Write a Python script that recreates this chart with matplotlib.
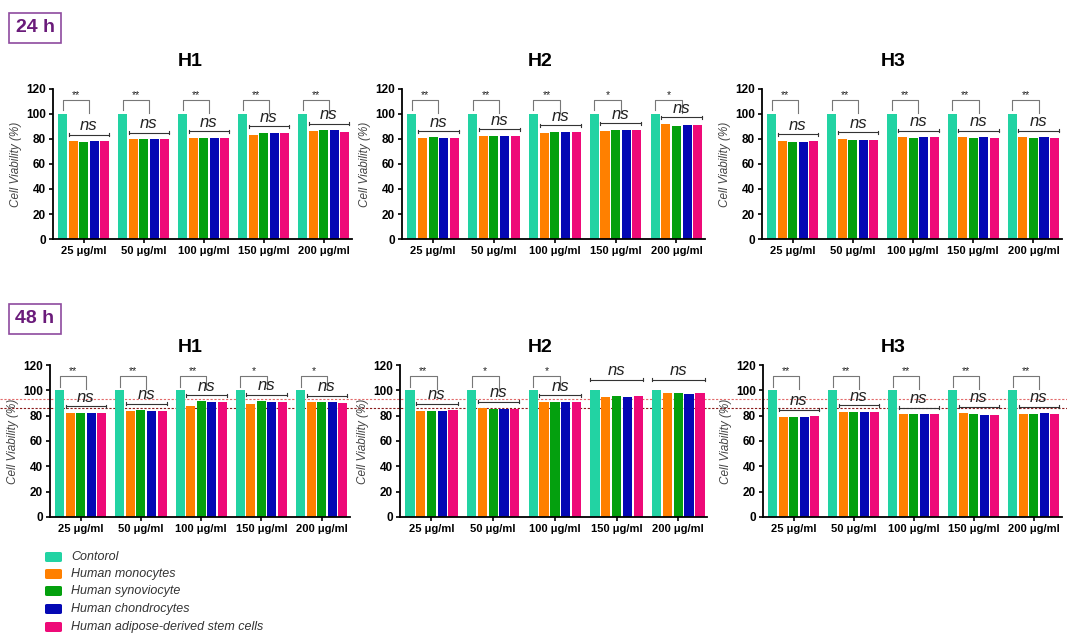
import numpy as np
import matplotlib
matplotlib.use("Agg")
import matplotlib.pyplot as plt
from matplotlib.patches import FancyBboxPatch
from matplotlib.lines import Line2D

plt.rcParams['font.family'] = ['Liberation Sans', 'DejaVu Sans']

# data
doses = ['25 \u03bcg/ml', '50 \u03bcg/ml', '100 \u03bcg/ml', '150 \u03bcg/ml', '200 \u03bcg/ml']
groups = ['Contorol', 'Human monocytes', 'Human synoviocyte',
          'Human chondrocytes', 'Human adipose-derived stem cells']
colors = ['#22D3A3', '#FF8000', '#04A00E', '#0408B4', '#EE0A78']

control = [100, 100, 100, 100, 100]

# 24 h, rows = doses, cols = monocytes, synoviocyte, chondrocytes, adipose
h1_24 = [[78.0, 77.6, 78.2, 78.2],
         [79.8, 79.6, 79.8, 79.8],
         [81.0, 80.6, 80.6, 81.0],
         [83.3, 85.0, 84.4, 84.4],
         [86.6, 87.3, 86.9, 85.6]]
h2_24 = [[80.4, 81.2, 80.4, 81.0],
         [82.6, 82.6, 82.3, 82.3],
         [84.7, 85.8, 85.2, 85.2],
         [86.6, 87.4, 87.4, 87.4],
         [92.2, 90.0, 91.1, 91.1]]
h3_24 = [[78.0, 77.7, 77.7, 78.7],
         [80.3, 79.5, 79.5, 79.5],
         [81.4, 80.9, 81.4, 81.7],
         [81.4, 80.9, 81.4, 80.9],
         [81.4, 80.6, 81.4, 80.9]]

# 48 h
h1_48 = [[81.8, 82.3, 82.3, 82.3],
         [84.0, 84.5, 83.5, 83.5],
         [87.4, 91.2, 90.4, 90.6],
         [89.3, 91.5, 90.4, 90.6],
         [90.6, 90.4, 90.4, 90.1]]
h2_48 = [[84.0, 84.0, 83.3, 84.6],
         [86.1, 85.6, 85.4, 85.6],
         [90.6, 90.9, 90.6, 91.1],
         [95.0, 95.8, 94.5, 95.3],
         [97.6, 98.2, 97.1, 97.6]]
h3_48 = [[79.0, 79.0, 79.0, 79.8],
         [83.2, 82.7, 83.2, 83.2],
         [81.2, 81.4, 81.2, 81.2],
         [82.2, 81.7, 80.6, 80.6],
         [81.7, 81.4, 82.2, 81.7]]

# significance of control vs treated ('' = only ns over the whole group)
sig_h1_24 = ['**', '**', '**', '**', '**']
sig_h2_24 = ['**', '**', '**', '*', '*']
sig_h3_24 = ['**', '**', '**', '**', '**']
sig_h1_48 = ['**', '**', '**', '*', '*']
sig_h2_48 = ['**', '*', '*', '', '']
sig_h3_48 = ['**', '**', '**', '**', '**']

ref_lines_48 = [93, 86.2]

W = 0.15
STEP = 0.175


def draw_panel(ax, treated, sig):
    x = np.arange(len(doses))
    treated = np.array(treated)
    all_vals = np.column_stack([control, treated])
    ax.patch.set_alpha(0)
    for k in range(5):
        off = (k - 2) * STEP
        ax.bar(x + off, all_vals[:, k], width=W, color=colors[k], linewidth=0)

    for i in range(len(doses)):
        top = treated[i].max()
        if sig[i]:
            # ns bar over the treated groups
            xl, xr = i - STEP - W / 2, i + 2 * STEP + W / 2
            y = top + 5
            ax.plot([xl, xr], [y, y], color='#333333', lw=0.8)
            ax.plot([xl, xl], [y - 1.2, y + 1.2], color='#333333', lw=0.8)
            ax.plot([xr, xr], [y - 1.2, y + 1.2], color='#333333', lw=0.8)
            ax.text((xl + xr) / 2, y + 1.2, 'ns', ha='center', va='bottom',
                    fontsize=12, style='italic', color='#222222')
            # control bracket
            xa, xb = i - 2 * STEP, i + 0.5 * STEP
            ax.plot([xa, xa, xb, xb], [103, 111, 111, 101], color='#777777', lw=0.8)
            ax.text((xa + xb) / 2, 111.5, sig[i], ha='center', va='bottom',
                    fontsize=7.5, color='#222222')
        else:
            xl, xr = i - 2 * STEP - W / 2, i + 2 * STEP + W / 2
            y = 108.5
            ax.plot([xl, xr], [y, y], color='#333333', lw=0.8)
            ax.plot([xl, xl], [y - 1.2, y + 1.2], color='#333333', lw=0.8)
            ax.plot([xr, xr], [y - 1.2, y + 1.2], color='#333333', lw=0.8)
            ax.text(i, y + 1.2, 'ns', ha='center', va='bottom',
                    fontsize=12, style='italic', color='#222222')

    ax.set_xlim(-0.51, 4.47)
    ax.set_ylim(0, 120)
    ax.set_yticks(range(0, 121, 20))
    ax.set_xticks(x)
    ax.set_xticklabels(doses, fontsize=8, fontweight='bold')
    for lab in ax.get_yticklabels():
        lab.set_fontsize(8.5)
        lab.set_fontweight('bold')
    ax.tick_params(axis='both', length=3, width=1.2, pad=2)
    ax.spines['top'].set_visible(False)
    ax.spines['right'].set_visible(False)
    ax.spines['left'].set_linewidth(1.3)
    ax.spines['bottom'].set_linewidth(1.3)
    ax.set_ylabel('Cell Viability (%)', fontsize=8.5, style='italic', color='#444444', labelpad=3)


fig = plt.figure(figsize=(10.67, 6.37), dpi=100)

top_pos = [[0.0497, 0.6248, 0.280, 0.2355],
           [0.3768, 0.6248, 0.284, 0.2355],
           [0.7141, 0.6248, 0.281, 0.2355]]
bot_pos = [[0.0469, 0.1884, 0.281, 0.2386],
           [0.3749, 0.1884, 0.288, 0.2386],
           [0.7151, 0.1884, 0.280, 0.2386]]

panels_24 = [(h1_24, sig_h1_24, 'H1'), (h2_24, sig_h2_24, 'H2'), (h3_24, sig_h3_24, 'H3')]
panels_48 = [(h1_48, sig_h1_48, 'H1'), (h2_48, sig_h2_48, 'H2'), (h3_48, sig_h3_48, 'H3')]

title_x = [190 / 1067, 540 / 1067, 893 / 1067]

bottom_axes = []
for pos, (vals, sig, name), tx in zip(top_pos, panels_24, title_x):
    ax = fig.add_axes(pos)
    draw_panel(ax, vals, sig)
    fig.text(tx, 1 - 62 / 637, name, ha='center', va='center', fontsize=14, fontweight='bold')

for pos, (vals, sig, name), tx in zip(bot_pos, panels_48, title_x):
    ax = fig.add_axes(pos)
    draw_panel(ax, vals, sig)
    bottom_axes.append(ax)
    fig.text(tx, 1 - 348 / 637, name, ha='center', va='center', fontsize=14, fontweight='bold')

# reference dashed lines across the 48 h row (behind the bars)
ax0 = bottom_axes[0]
fig.canvas.draw()
for val, col in zip(ref_lines_48, ['#E26A6A', '#8B1A1A']):
    y_disp = ax0.transData.transform((0, val))[1]
    y_fig = fig.transFigure.inverted().transform((0, y_disp))[1]
    fig.add_artist(Line2D([0.0, 1.0], [y_fig, y_fig], transform=fig.transFigure,
                          color=col, lw=0.8, ls=(0, (2, 1.5)), zorder=-1))

# time labels in boxes
for label, y in [('24 h', 1 - 28 / 637), ('48 h', 1 - 319 / 637)]:
    fig.text(35 / 1067, y, label, ha='center', va='center', fontsize=14,
             fontweight='bold', color='#6A1B7A',
             bbox=dict(boxstyle='square,pad=0.35', fc='white', ec='#8E4A9E', lw=1.2))

# legend
leg_y = [557, 574, 591, 609, 627]
for name, col, yy in zip(groups, colors, leg_y):
    yf = 1 - yy / 637
    fig.add_artist(FancyBboxPatch((45 / 1067, yf - 5 / 637), 17 / 1067, 10 / 637,
                                  boxstyle='round,pad=0.0,rounding_size=0.002',
                                  transform=fig.transFigure, fc=col, ec='none'))
    fig.text(71 / 1067, yf, name, ha='left', va='center', fontsize=9,
             style='italic', color='#333333')

fig.savefig('out.png', dpi=100)
